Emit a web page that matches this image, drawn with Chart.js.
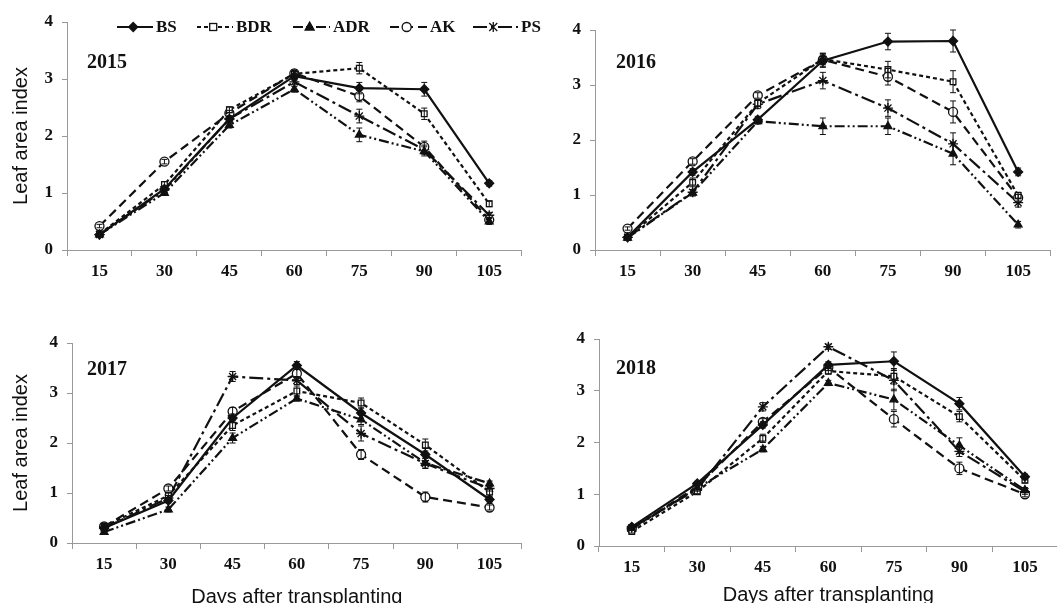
<!DOCTYPE html>
<html><head><meta charset="utf-8">
<script src="https://cdn.jsdelivr.net/npm/chart.js@4.4.1/dist/chart.umd.min.js"></script>
<style>
html,body{margin:0;padding:0;background:#fff;width:1057px;height:603px;overflow:hidden;position:relative}
.p{position:absolute}
.lg{position:absolute;top:17px;display:flex;align-items:center;font:bold 17px "Liberation Serif",serif;color:#111;white-space:nowrap}
.lg span{margin-left:3px}
</style></head><body>
<div class="p" style="left:0;top:0;width:528px;height:300px"><canvas id="c2015"></canvas></div>
<div class="p" style="left:528px;top:0;width:529px;height:300px"><canvas id="c2016"></canvas></div>
<div class="p" style="left:0;top:300px;width:528px;height:320px"><canvas id="c2017"></canvas></div>
<div class="p" style="left:528px;top:300px;width:536px;height:320px"><canvas id="c2018"></canvas></div>
<div id="legend"></div>
<script>
// ---- data ----
const days = ['15','30','45','60','75','90','105'];
const seriesNames = ['BS','BDR','ADR','AK','PS'];
const yTicks = [0,1,2,3,4];

const bs2015  = [0.27,1.07,2.30,3.05,2.84,2.82,1.17];
const bdr2015 = [0.28,1.15,2.46,3.09,3.19,2.39,0.81];
const adr2015 = [0.27,1.00,2.19,2.82,2.02,1.73,0.50];
const ak2015  = [0.42,1.55,2.40,3.10,2.70,1.81,0.53];
const ps2015  = [0.27,1.05,2.30,2.95,2.35,1.76,0.61];

const bs2016  = [0.23,1.42,2.37,3.44,3.79,3.80,1.42];
const bdr2016 = [0.23,1.23,2.67,3.47,3.28,3.06,0.99];
const adr2016 = [0.22,1.04,2.34,2.25,2.25,1.75,0.46];
const ak2016  = [0.39,1.61,2.81,3.46,3.15,2.51,0.95];
const ps2016  = [0.23,1.05,2.65,3.08,2.58,1.93,0.86];

const bs2017  = [0.30,0.85,2.50,3.55,2.60,1.77,0.87];
const bdr2017 = [0.33,0.95,2.35,3.04,2.80,1.96,1.02];
const adr2017 = [0.22,0.67,2.10,2.89,2.47,1.60,1.19];
const ak2017  = [0.33,1.09,2.63,3.39,1.77,0.92,0.71];
const ps2017  = [0.30,0.90,3.33,3.25,2.19,1.59,1.09];

const bs2018  = [0.37,1.21,2.34,3.50,3.57,2.75,1.34];
const bdr2018 = [0.28,1.05,2.08,3.38,3.28,2.50,1.27];
const adr2018 = [0.33,1.12,1.87,3.15,2.83,1.94,1.08];
const ak2018  = [0.33,1.15,2.40,3.45,2.45,1.50,1.00];
const ps2018  = [0.35,1.10,2.69,3.85,3.20,1.83,1.05];

// standard errors
const eBs2015  = [0.03,0.05,0.05,0.08,0.10,0.12,0.05];
const eBdr2015 = [0.03,0.05,0.05,0.06,0.10,0.10,0.05];
const eAdr2015 = [0.03,0.04,0.05,0.05,0.12,0.08,0.05];
const eAk2015  = [0.03,0.04,0.05,0.06,0.10,0.10,0.04];
const ePs2015  = [0.03,0.04,0.05,0.05,0.12,0.08,0.05];
const eBs2016  = [0.03,0.06,0.06,0.12,0.15,0.20,0.07];
const eBdr2016 = [0.03,0.08,0.06,0.10,0.15,0.20,0.06];
const eAdr2016 = [0.03,0.06,0.05,0.15,0.15,0.20,0.06];
const eAk2016  = [0.03,0.05,0.05,0.12,0.15,0.20,0.06];
const ePs2016  = [0.03,0.05,0.08,0.15,0.15,0.20,0.08];
const eBs2017  = [0.03,0.05,0.08,0.08,0.10,0.12,0.05];
const eBdr2017 = [0.03,0.05,0.10,0.10,0.10,0.12,0.08];
const eAdr2017 = [0.03,0.05,0.10,0.05,0.10,0.10,0.05];
const eAk2017  = [0.03,0.05,0.08,0.08,0.10,0.10,0.05];
const ePs2017  = [0.03,0.05,0.10,0.08,0.15,0.10,0.05];
const eBs2018  = [0.03,0.04,0.06,0.06,0.18,0.12,0.05];
const eBdr2018 = [0.03,0.04,0.08,0.06,0.15,0.10,0.05];
const eAdr2018 = [0.03,0.04,0.05,0.05,0.20,0.15,0.05];
const eAk2018  = [0.03,0.04,0.06,0.06,0.15,0.12,0.05];
const ePs2018  = [0.03,0.04,0.08,0.05,0.20,0.10,0.05];

// ---- styles ----
const INK = '#111';
const styles = [
  {dash:[], point:'rectRot', fill:INK, r:4.5},
  {dash:[4,3], point:'rect', fill:'#fff', r:4},
  {dash:[10,3,2,3,2,3], point:'triangle', fill:INK, r:4.5},
  {dash:[9,5], point:'circle', fill:'#fff', r:4.5},
  {dash:[14,4,3,4], point:'star', fill:INK, r:5}
];

const errorBars = {
  id:'errorBars',
  afterDatasetsDraw(chart){
    const ctx = chart.ctx, ys = chart.scales.y;
    ctx.save(); ctx.strokeStyle = INK; ctx.lineWidth = 1; ctx.setLineDash([]);
    chart.data.datasets.forEach((ds,i)=>{
      const meta = chart.getDatasetMeta(i);
      meta.data.forEach((pt,j)=>{
        const e = ds.errors[j]; const v = ds.data[j];
        const y1 = ys.getPixelForValue(v+e), y2 = ys.getPixelForValue(v-e);
        const x = pt.x;
        ctx.beginPath();
        ctx.moveTo(x,y1); ctx.lineTo(x,y2);
        ctx.moveTo(x-3,y1); ctx.lineTo(x+3,y1);
        ctx.moveTo(x-3,y2); ctx.lineTo(x+3,y2);
        ctx.stroke();
      });
    });
    ctx.restore();
  }
};
const yearLabel = {
  id:'yearLabel',
  afterDraw(chart, args, opts){
    const ctx = chart.ctx; ctx.save();
    ctx.font = 'bold 20px "Liberation Serif", serif';
    ctx.fillStyle = INK; ctx.textBaseline = 'middle'; ctx.textAlign='left';
    ctx.fillText(opts.text, opts.x, opts.y);
    ctx.restore();
  }
};

function makePanel(id, vals, errs, year, L){
  const datasets = vals.map((d,i)=>({
    label: seriesNames[i], data: d, errors: errs[i],
    borderColor: INK, borderWidth: 2.2, borderDash: styles[i].dash,
    pointStyle: styles[i].point, pointRadius: styles[i].r,
    pointBackgroundColor: styles[i].fill, pointBorderColor: INK, pointBorderWidth: 1.3,
    tension: 0, fill: false
  }));
  const tickFont = {family:'"Liberation Serif", serif', size:17, weight:'bold'};
  return new Chart(document.getElementById(id), {
    type:'line',
    data:{labels: days, datasets},
    plugins:[errorBars, yearLabel],
    options:{
      responsive:true, maintainAspectRatio:false, animation:false,
      layout:{padding:{left:0, top:L.top, right:L.right, bottom:0}},
      plugins:{legend:{display:false}, tooltip:{enabled:false},
        yearLabel:{text:year, x:L.yx, y:L.yy}},
      scales:{
        x:{type:'category', offset:true,
          grid:{offset:true, drawOnChartArea:false, tickLength:6, color:'#999'},
          border:{color:'#999', width:1},
          ticks:{font:tickFont, color:INK, padding:5, maxRotation:0},
          title:{display:!!L.xTitle, text:'Days after transplanting', color:INK,
            font:{family:'"Liberation Sans", Arial, sans-serif', size:20}, padding:{top:0,bottom:L.xtpb||0}},
          afterFit(s){ s.height = L.xh; }
        },
        y:{min:0, max:4, afterBuildTicks(s){ s.ticks = yTicks.map(v=>({value:v})); },
          grid:{drawOnChartArea:false, tickLength:5, color:'#999'},
          border:{color:'#999', width:1},
          ticks:{font:tickFont, color:INK, padding:9},
          title:{display:!!L.yTitle, text:'Leaf area index', color:INK,
            font:{family:'"Liberation Sans", Arial, sans-serif', size:20}, padding:{top:9,bottom:0}},
          afterFit(s){ s.width = L.yw; }
        }
      }
    }
  });
}

makePanel('c2015', [bs2015,bdr2015,adr2015,ak2015,ps2015], [eBs2015,eBdr2015,eAdr2015,eAk2015,ePs2015], '2015',
  {top:22, right:4, yw:67, xh:50, yTitle:true, yx:87, yy:63});
makePanel('c2016', [bs2016,bdr2016,adr2016,ak2016,ps2016], [eBs2016,eBdr2016,eAdr2016,eAk2016,ePs2016], '2016',
  {top:30, right:2, yw:67, xh:50, yTitle:false, yx:88, yy:63});
makePanel('c2017', [bs2017,bdr2017,adr2017,ak2017,ps2017], [eBs2017,eBdr2017,eAdr2017,eAk2017,ePs2017], '2017',
  {top:43, right:2, yw:72, xh:77, yTitle:true, xTitle:true, xtpb:11, yx:87, yy:70});
makePanel('c2018', [bs2018,bdr2018,adr2018,ak2018,ps2018], [eBs2018,eBdr2018,eAdr2018,eAk2018,ePs2018], '2018',
  {top:39, right:2, yw:71, xh:74, yTitle:false, xTitle:true, xtpb:13, yx:88, yy:69});

// ---- legend (HTML) ----
const legendX = [117,197,293,390,473];
const legendW = [36,36,37,37,45];
const lg = document.getElementById('legend');
const NS = 'http://www.w3.org/2000/svg';
seriesNames.forEach((name,i)=>{
  const st = styles[i];
  const item = document.createElement('div');
  item.className = 'lg'; item.style.left = legendX[i]+'px';
  const w = legendW[i], h = 20, cy = 10, cx = w*0.45;
  const svg = document.createElementNS(NS,'svg');
  svg.setAttribute('width',w); svg.setAttribute('height',h);
  const ln = document.createElementNS(NS,'line');
  ln.setAttribute('x1',0); ln.setAttribute('x2',w); ln.setAttribute('y1',cy); ln.setAttribute('y2',cy);
  ln.setAttribute('stroke',INK); ln.setAttribute('stroke-width',2);
  if (st.dash.length) ln.setAttribute('stroke-dasharray', st.dash.join(' '));
  svg.appendChild(ln);
  let m;
  if (st.point==='rectRot'){ m=document.createElementNS(NS,'polygon'); m.setAttribute('points',`${cx},${cy-4.5} ${cx+4.5},${cy} ${cx},${cy+4.5} ${cx-4.5},${cy}`); }
  else if (st.point==='rect'){ m=document.createElementNS(NS,'rect'); m.setAttribute('x',cx-3.5); m.setAttribute('y',cy-3.5); m.setAttribute('width',7); m.setAttribute('height',7); }
  else if (st.point==='triangle'){ m=document.createElementNS(NS,'polygon'); m.setAttribute('points',`${cx},${cy-5} ${cx+4.5},${cy+3} ${cx-4.5},${cy+3}`); }
  else if (st.point==='circle'){ m=document.createElementNS(NS,'circle'); m.setAttribute('cx',cx); m.setAttribute('cy',cy); m.setAttribute('r',4.5); }
  else { m=document.createElementNS(NS,'path'); m.setAttribute('d',`M${cx-4},${cy-4}L${cx+4},${cy+4}M${cx-4},${cy+4}L${cx+4},${cy-4}M${cx},${cy-5}L${cx},${cy+5}`); }
  m.setAttribute('fill', st.point==='star' ? 'none' : st.fill);
  m.setAttribute('stroke',INK); m.setAttribute('stroke-width',1.3);
  svg.appendChild(m);
  item.appendChild(svg);
  const t = document.createElement('span'); t.textContent = name; item.appendChild(t);
  lg.appendChild(item);
});
</script>
</body></html>
